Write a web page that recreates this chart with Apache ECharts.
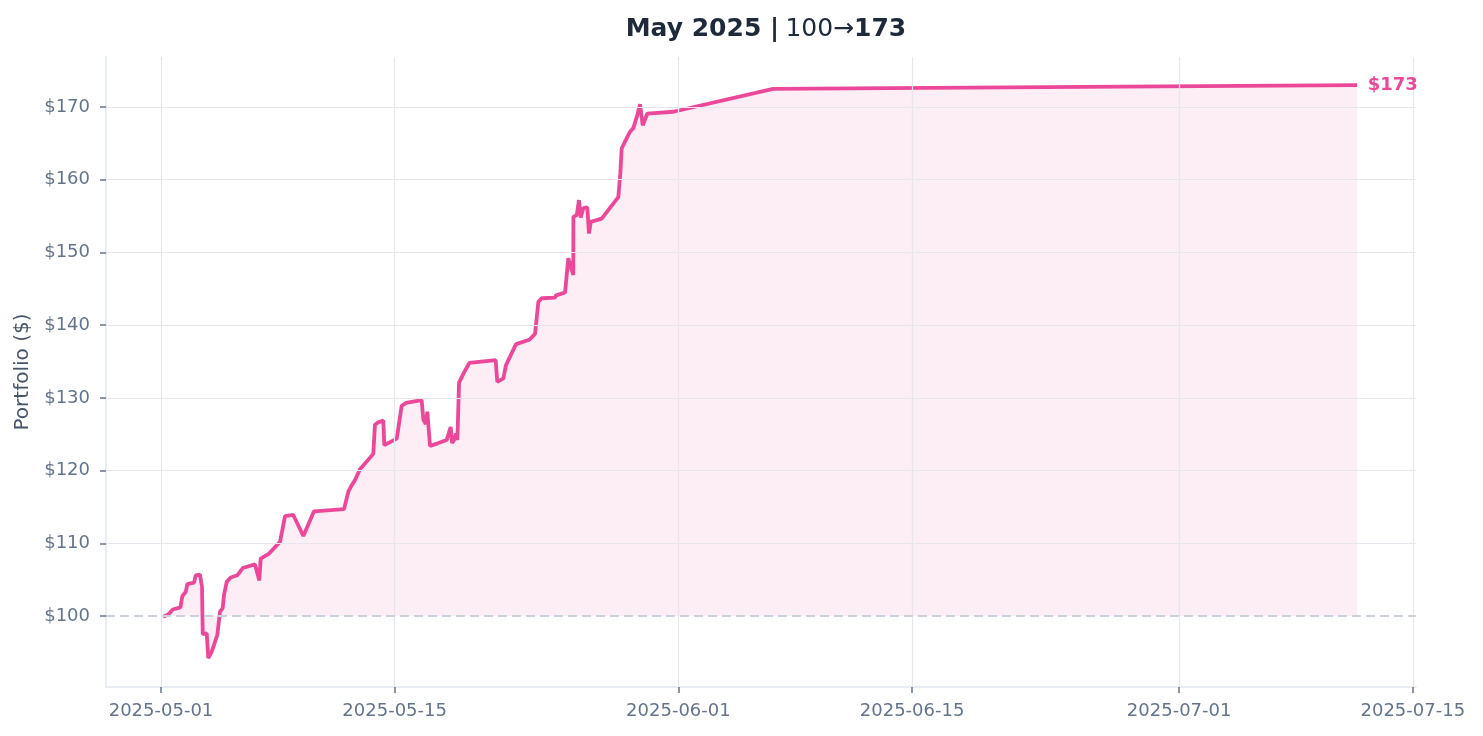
<!DOCTYPE html>
<html>
<head>
<meta charset="utf-8">
<script src="https://cdn.jsdelivr.net/npm/echarts@6/dist/echarts.min.js"></script>
<style>
html,body{margin:0;padding:0;background:#fff;}
#chart{width:1483px;height:736px;}
</style>
</head>
<body>
<div id="chart"></div>
<script>
const times = [
  '2025-05-01 03:00','2025-05-01 10:30','2025-05-01 17:00','2025-05-02 04:00','2025-05-02 06:40',
  '2025-05-02 11:30','2025-05-02 13:50','2025-05-02 23:30','2025-05-03 02:00','2025-05-03 08:00',
  '2025-05-03 11:00','2025-05-03 12:00','2025-05-03 17:45','2025-05-03 20:00','2025-05-04 01:00',
  '2025-05-04 09:00','2025-05-04 12:50','2025-05-04 16:45','2025-05-04 18:36','2025-05-04 22:30',
  '2025-05-05 04:15','2025-05-05 13:45','2025-05-05 21:30','2025-05-06 15:10','2025-05-06 21:20',
  '2025-05-06 23:20','2025-05-07 10:20','2025-05-08 03:10','2025-05-08 10:20','2025-05-08 22:15',
  '2025-05-09 12:40','2025-05-10 04:00','2025-05-11 23:10','2025-05-12 05:20','2025-05-12 09:10',
  '2025-05-12 15:00','2025-05-12 22:10','2025-05-13 17:15','2025-05-13 19:40','2025-05-13 23:35',
  '2025-05-14 07:40','2025-05-14 09:05','2025-05-15 03:00','2025-05-15 10:05','2025-05-15 16:20',
  '2025-05-16 14:50','2025-05-16 17:15','2025-05-16 20:40','2025-05-16 23:00','2025-05-17 01:00',
  '2025-05-17 02:50','2025-05-17 13:55','2025-05-18 02:50','2025-05-18 06:35','2025-05-18 08:35',
  '2025-05-18 10:30','2025-05-18 13:20','2025-05-18 16:15','2025-05-18 18:10','2025-05-18 20:35',
  '2025-05-19 02:40','2025-05-19 11:20','2025-05-21 01:15','2025-05-21 03:35','2025-05-21 12:15',
  '2025-05-21 16:05','2025-05-22 06:30','2025-05-23 01:40','2025-05-23 09:50','2025-05-23 14:35',
  '2025-05-23 19:25','2025-05-24 14:35','2025-05-24 16:00','2025-05-25 05:00','2025-05-25 09:40',
  '2025-05-25 16:50','2025-05-25 17:00','2025-05-25 21:50','2025-05-26 01:00','2025-05-26 03:35',
  '2025-05-26 07:15','2025-05-26 13:00','2025-05-26 15:25','2025-05-26 17:55','2025-05-27 09:40',
  '2025-05-28 09:35','2025-05-28 12:30','2025-05-28 14:25','2025-05-28 21:35','2025-05-29 02:25',
  '2025-05-29 07:10','2025-05-29 12:55','2025-05-29 16:50','2025-05-29 20:40','2025-05-30 03:20',
  '2025-05-31 16:45','2025-06-06 16:00','2025-07-11 16:00'
];
const values = [
  99.9,100.2,100.9,101.2,102.75,
  103.3,104.4,104.6,105.6,105.7,
  104.0,97.5,97.6,94.2,95.1,
  97.4,100.6,101.1,102.9,104.7,
  105.3,105.6,106.6,107.1,104.9,
  107.9,108.5,110.2,113.75,113.9,
  111.0,114.4,114.7,117.1,117.8,
  118.7,120.2,122.3,126.3,126.6,
  126.9,123.5,124.4,128.9,129.3,
  129.7,127.0,126.4,128.1,125.6,
  123.4,123.75,124.2,125.4,126.0,
  123.8,124.2,125.1,124.2,132.1,
  133.3,134.8,135.2,132.2,132.7,
  134.5,137.4,138.0,138.8,143.2,
  143.7,143.8,144.1,144.5,149.2,
  146.9,154.9,155.15,157.2,154.8,
  156.1,156.2,152.6,154.2,154.65,
  157.6,160.9,164.3,165.7,166.6,
  167.1,168.9,170.4,167.5,169.1,
  169.35,172.5,173.0
];
const xTickDates = ['2025-05-01','2025-05-15','2025-06-01','2025-06-15','2025-07-01','2025-07-15'];
const yTickValues = [100,110,120,130,140,150,160,170];
const baseline = 100;
const startValue = 100;
const endValue = 173;
const periodLabel = 'May 2025';

const ts = s => { const [d,t] = s.split(' '); const [Y,M,D] = d.split('-').map(Number); const [h,m] = (t||'00:00').split(':').map(Number); return Date.UTC(Y,M-1,D,h,m); };
const seriesData = times.map((t,i) => [ts(t), values[i]]);
const lastPoint = seriesData[seriesData.length - 1];
const xTicks = xTickDates.map(d => ts(d));
const pad = n => (n<10?'0':'')+n;
const fmtDate = v => { const d = new Date(v); return d.getUTCFullYear()+'-'+pad(d.getUTCMonth()+1)+'-'+pad(d.getUTCDate()); };

const PINK = '#ec4899';
const FONT = 'DejaVu Sans';
const chart = echarts.init(document.getElementById('chart'), null, {renderer:'canvas'});
chart.setOption({
  animation: false,
  backgroundColor: '#ffffff',
  textStyle: {fontFamily: FONT},
  title: {
    left: 761, top: 12, textAlign: 'center',
    text: '{b|' + periodLabel + ' |} {n|' + startValue + '→}{b|' + endValue + '}',
    textStyle: {
      rich: {
        b: {fontFamily: FONT, fontWeight: 'bold', fontSize: 25, color: '#1e293b'},
        n: {fontFamily: FONT, fontWeight: 'normal', fontSize: 25, color: '#1e293b'}
      }
    }
  },
  grid: {left: 106, right: 67, top: 57, bottom: 49, containLabel: false},
  xAxis: {
    type: 'value',
    min: ts('2025-04-27 16:55'),
    max: ts('2025-07-15 04:35'),
    axisLine: {show: true, lineStyle: {color: '#e2e8f0', width: 1.5}},
    axisTick: {show: true, customValues: xTicks, length: 6, lineStyle: {color: '#64748b', width: 1.5}},
    axisLabel: {customValues: xTicks, formatter: v => fmtDate(v), color: '#64748b', fontSize: 18, fontFamily: FONT, margin: 15, hideOverlap: false},
    splitLine: {show: false}
  },
  yAxis: {
    type: 'value',
    min: 90.24, max: 176.88,
    name: 'Portfolio ($)', nameLocation: 'middle', nameGap: 72,
    nameTextStyle: {color: '#475569', fontSize: 20, fontFamily: FONT},
    axisLine: {show: true, lineStyle: {color: '#e2e8f0', width: 1.5}},
    axisTick: {show: true, customValues: yTickValues, length: 6, lineStyle: {color: '#64748b', width: 1.5}},
    axisLabel: {customValues: yTickValues, formatter: v => '$' + Math.round(v), color: '#64748b', fontSize: 18, fontFamily: FONT, margin: 16},
    splitLine: {show: false}
  },
  series: [
    {
      name: 'grid', type: 'line', data: [], silent: true,
      markLine: {
        silent: true, symbol: 'none', label: {show: false},
        lineStyle: {color: '#e6e6ec', width: 1.2, type: 'solid'},
        data: yTickValues.filter(v => v !== baseline).map(v => ({yAxis: v})).concat(xTicks.map(v => ({xAxis: v})))
      },
      z: 1
    },
    {
      name: 'Portfolio', type: 'line', data: seriesData, showSymbol: false, symbol: 'none',
      clip: false,
      lineStyle: {color: PINK, width: 3.8},
      itemStyle: {color: PINK},
      areaStyle: {origin: baseline, color: 'rgba(236,72,153,0.14)'},
      markLine: {
        silent: true, symbol: 'none', label: {show: false},
        lineStyle: {color: '#c8d2de', width: 1.8, type: [9, 5]},
        data: [{yAxis: baseline}]
      },
      markPoint: {
        silent: true, symbol: 'circle', symbolSize: 1,
        itemStyle: {color: 'rgba(0,0,0,0)'},
        label: {show: true, position: 'right', distance: 10, formatter: '$' + Math.round(lastPoint[1]), color: PINK, fontWeight: 'bold', fontSize: 18, fontFamily: FONT},
        data: [{coord: lastPoint}]
      },
      z: 3
    }
  ]
});
</script>
</body>
</html>
